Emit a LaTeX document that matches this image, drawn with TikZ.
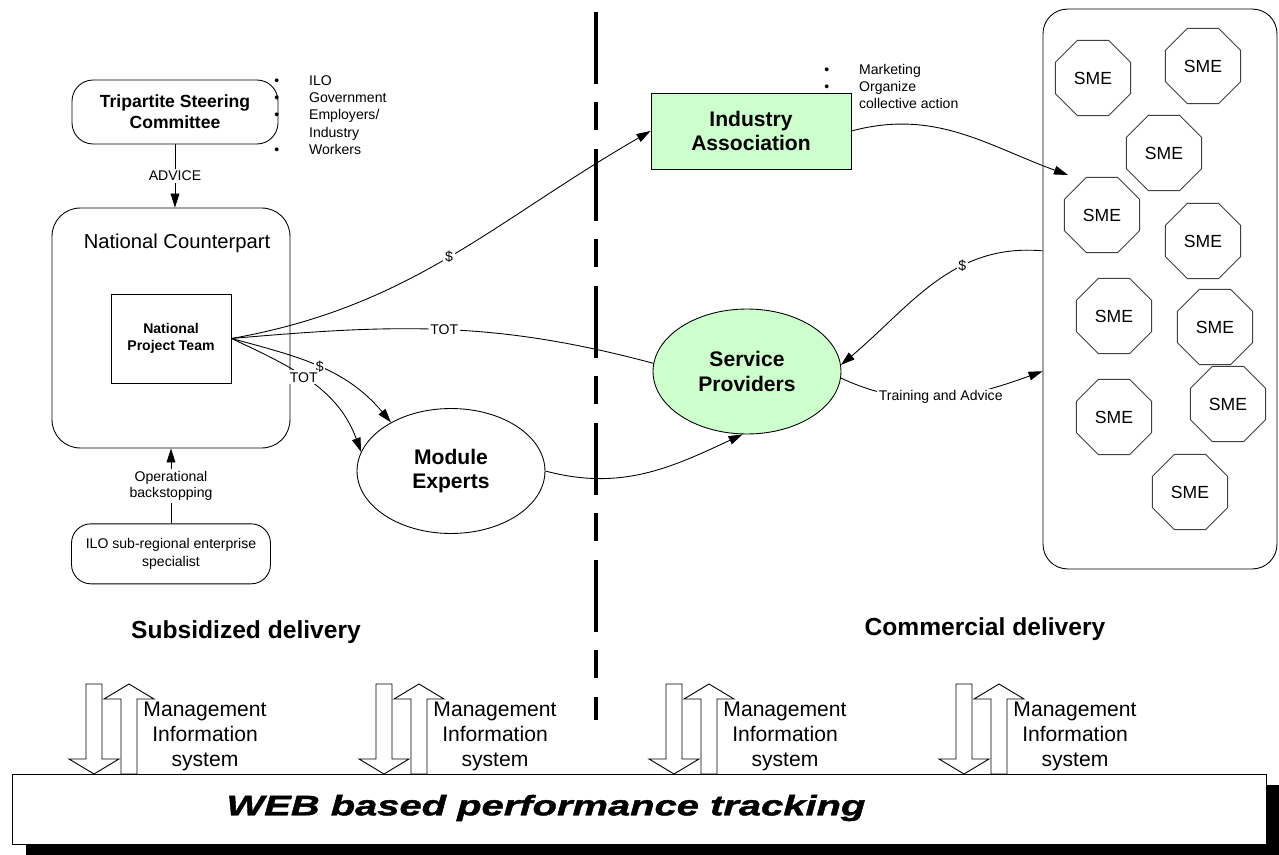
\documentclass[tikz,border=0pt]{standalone}
\usepackage{fontspec}
\setmainfont{Liberation Sans}
\newfontfamily\webfont[FakeStretch=1.42, FakeBold=1.6]{Liberation Sans}
\usetikzlibrary{shapes,arrows,positioning,calc,arrows.meta,shadows}
\tikzset{
  ilo rounded/.style={rectangle, rounded corners=12pt, draw, fill=white, align=center, line width=0.5pt},
  ilo box/.style={rectangle, draw, align=center, line width=0.5pt},
  ilo oval/.style={ellipse, draw, align=center, line width=0.5pt, minimum width=3.76cm, minimum height=2.5cm, font=\bfseries\fontsize{12}{14}\selectfont},
  sme/.style={regular polygon, regular polygon sides=8, draw=black!75, minimum size=1.63cm, inner sep=0pt, line width=0.5pt, font=\fontsize{10}{12}\selectfont},
  link/.style={line width=0.5pt},
  flow/.style={link, -{Triangle[length=8pt,width=5pt]}},
  flow label/.style={fill=white, inner sep=1pt, font=\fontsize{8}{9.6}\selectfont},
  mis arrow/.style={draw, fill=white, line width=0.5pt},
  small text/.style={font=\fontsize{8}{9.8}\selectfont}
}

\begin{document}
\begin{tikzpicture}[x=0.02cm, y=0.02cm]
    \useasboundingbox (0,0) rectangle (1279,-855);

    % subsidized | commercial divider
    \draw[line width=2.4pt, dash pattern=on 1.44cm off 0.37cm on 0.56cm off 0.37cm] (596,-12) -- (596,-720);

    % left: project side
    \node [ilo rounded, rounded corners=16pt, minimum width=4.76cm, minimum height=4.8cm] (nc) at (171,-328) {};
    \node [font=\fontsize{11.5}{13.8}\selectfont] (nctitle) at (177,-243) {National Counterpart};
    \node [ilo box, minimum width=2.4cm, minimum height=1.78cm, font=\bfseries\fontsize{8}{9.6}\selectfont] (npt) at (171,-338.5) {National\\Project Team};
    \node [ilo rounded, minimum width=4.12cm, minimum height=1.28cm, font=\bfseries\fontsize{10}{12}\selectfont] (tsc) at (175,-112) {Tripartite Steering\\Committee};
    \node [ilo rounded, rounded corners=11pt, minimum width=3.98cm, minimum height=1.2cm, small text, below=1.5cm of nc] (ilo) {ILO sub-regional enterprise\\specialist};
    \node [anchor=west, inner sep=0pt, small text] (tscpts) at (274,-116.5) {%
      \begin{tabular}{@{}l@{\hspace{17pt}}l@{}}
        \textbullet & ILO\\
        \textbullet & Government\\
        \textbullet & Employers/\\
                    & Industry\\
        \textbullet & Workers
      \end{tabular}};

    \draw [flow] (tsc.south) -- (tsc.south |- nc.north) node[midway, flow label] {ADVICE};
    \draw [flow] (ilo.north) -- (ilo.north |- nc.south) node[midway, flow label, align=center] {Operational\\backstopping};

    % middle and right
    \node [ilo oval] (me) at (451,-471) {Module\\Experts};
    \node [ilo oval, fill=green!20] (sp) at (747,-371.5) {Service\\Providers};
    \node [ilo box, fill=green!20, minimum width=4cm, minimum height=1.52cm, font=\bfseries\fontsize{12}{14}\selectfont] (ia) at (751,-131) {Industry\\Association};
    \node [anchor=west, inner sep=0pt, small text] (iapts) at (824,-88) {%
      \begin{tabular}{@{}l@{\hspace{17pt}}l@{}}
        \textbullet & Marketing\\
        \textbullet & Organize\\
                    & collective action
      \end{tabular}};

    \node [ilo rounded, rounded corners=14pt, minimum width=4.68cm, minimum height=11.2cm] (smes) at (1160,-289) {};
    \foreach \sx/\sy [count=\i] in {1093/-78, 1203/-66, 1164/-153, 1102/-215, 1203/-241,
                                    1114/-316, 1215/-327, 1114/-417, 1228/-404, 1190/-492}
      \node [sme] (sme\i) at (\sx,\sy) {SME};
    \coordinate (smein) at (1068,-175);

    % flows out of the project team
    \draw [flow] (npt.east) to[out=10, in=210] node[pos=0.5, flow label] {\$} (ia.west);
    \draw [link] (npt.east) to[out=5, in=165] node[pos=0.5, flow label] {TOT} (sp.175);
    \draw [flow] (npt.east) to[out=-15, in=130] node[pos=0.5, flow label] {\$} (me.141);
    \draw [flow] (npt.east) to[out=-25, in=110] node[pos=0.45, flow label] {TOT} (me.168);
    \draw [flow] (me.east) to[out=-15, in=205] (sp.266);

    % market side
    \draw [flow] (ia.east) to[out=15, in=160] (smein);
    \draw [flow] (smes.162) to[out=175, in=40] node[pos=0.35, flow label] {\$} (sp.4);
    \draw [flow] (sp.-4) to[out=-25, in=200] node[pos=0.5, flow label] {Training and Advice} (smes.215);

    \node [font=\bfseries\fontsize{14}{16}\selectfont] (subs) at (246,-632) {Subsidized delivery};
    \node [font=\bfseries\fontsize{14}{16}\selectfont] (comm) at (985,-629) {Commercial delivery};

    % MIS arrows down to / up from the tracking bar
    \foreach \dx in {0,290,580,870} {
      \draw [mis arrow] (86+\dx,-684) -- ++(16,0) -- ++(0,-75) -- ++(17,0) -- ++(-25,-15) -- ++(-25,15) -- ++(17,0) -- cycle;
      \draw [mis arrow] (121+\dx,-774) -- ++(0,75) -- ++(-17,0) -- ++(25,15) -- ++(25,-15) -- ++(-17,0) -- ++(0,-75) -- cycle;
      \node [align=center, font=\fontsize{12}{14.2}\selectfont] (mis\dx) at (205+\dx,-736) {Management\\Information\\system};
    }

    \node [draw, fill=white, line width=0.5pt, minimum width=25.1cm, minimum height=1.4cm,
           drop shadow={shadow xshift=0.28cm, shadow yshift=-0.22cm, fill=black, opacity=1}] (web) at (639.5,-809) {};
    \node [font=\webfont\bfseries\itshape\fontsize{16}{18}\selectfont] (webtxt) at (546,-808) {WEB based performance tracking};
\end{tikzpicture}
\end{document}
